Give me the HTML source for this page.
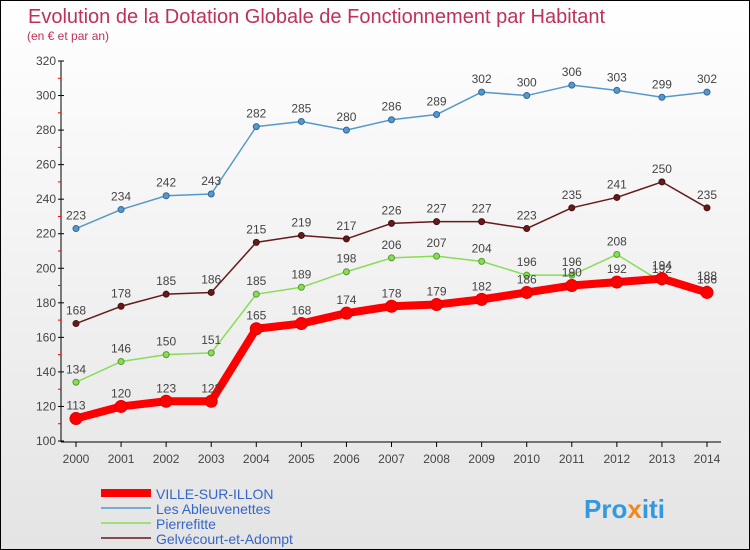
<!DOCTYPE html>
<html><head><meta charset="utf-8"><style>
body{margin:0;}
#w{width:748px;height:548px;border:1px solid #000;background:linear-gradient(#fff,#e4e4e4);position:relative;overflow:hidden;font-family:"Liberation Sans",sans-serif;}
</style></head><body>
<div id="w">
<svg id="s" width="748" height="548" xmlns="http://www.w3.org/2000/svg">
<text x="27" y="22" font-size="20" fill="#c0305a">Evolution de la Dotation Globale de Fonctionnement par Habitant</text>
<text x="26" y="39" font-size="12" fill="#c0305a">(en € et par an)</text>
<g id="axes"></g><g id="series"></g>
<g>
<line x1="100" y1="492" x2="150" y2="492" stroke="#f00" stroke-width="8"/>
<text x="155" y="498" font-size="14" fill="#3366cc">VILLE-SUR-ILLON</text>
<line x1="100" y1="507" x2="150" y2="507" stroke="#5599cc" stroke-width="1.5"/>
<text x="155" y="513" font-size="14" fill="#3366cc">Les Ableuvenettes</text>
<line x1="100" y1="522" x2="150" y2="522" stroke="#88dd55" stroke-width="1.5"/>
<text x="155" y="528" font-size="14" fill="#3366cc">Pierrefitte</text>
<line x1="100" y1="537" x2="150" y2="537" stroke="#661a1a" stroke-width="1.5"/>
<text x="155" y="543" font-size="14" fill="#3366cc">Gelvécourt-et-Adompt</text>
</g>
<text x="583" y="517" font-size="26" font-weight="bold" fill="#3399dd">Pro<tspan fill="#ee8822">x</tspan>iti</text>
</svg></div>
<script>
const years=[2000,2001,2002,2003,2004,2005,2006,2007,2008,2009,2010,2011,2012,2013,2014];
const yTicks=[100,120,140,160,180,200,220,240,260,280,300,320];
const ville=[113,120,123,123,165,168,174,178,179,182,186,190,192,194,186];
const ableuv=[223,234,242,243,282,285,280,286,289,302,300,306,303,299,302];
const pierre=[134,146,150,151,185,189,198,206,207,204,196,196,208,192,188];
const gelv=[168,178,185,186,215,219,217,226,227,227,223,235,241,250,235];
const NS="http://www.w3.org/2000/svg";
const X=i=>75+i*(631/14);
const Y=v=>440-(v-100)*(380/220);
function mk(t,a,p){const e=document.createElementNS(NS,t);for(const k in a)e.setAttribute(k,a[k]);p.appendChild(e);return e;}
const ax=document.getElementById('axes'),sg=document.getElementById('series');
let l=mk('line',{x1:60,y1:60,x2:60,y2:441,stroke:'#000'},ax);


l=mk('line',{x1:60,y1:441,x2:720,y2:441,stroke:'#000'},ax);


yTicks.forEach(v=>{mk('line',{x1:57,y1:Y(v),x2:63,y2:Y(v),stroke:'#000'},ax);
if(v<320)mk('line',{x1:57,y1:Y(v+10),x2:60,y2:Y(v+10),stroke:'#f00'},ax);
const t=mk('text',{x:55,y:Y(v)+4,'font-size':12,fill:'#444','text-anchor':'end'},ax);t.textContent=v;

});
years.forEach((y,i)=>{mk('line',{x1:X(i),y1:441,x2:X(i),y2:446,stroke:'#000'},ax);
const t=mk('text',{x:X(i),y:462,'font-size':12,fill:'#444','text-anchor':'middle'},ax);t.textContent=y;

});
function series(d,col,w,r,name,dark){
const g=mk('g',{},sg);


mk('polyline',{points:d.map((v,i)=>X(i)+','+Y(v)).join(' '),fill:'none',stroke:col,'stroke-width':w,'stroke-linejoin':'round'},g);
d.forEach((v,i)=>{const c=mk('circle',{cx:X(i),cy:Y(v),r:r,fill:col,stroke:dark,'stroke-width':1},g);


const t=mk('text',{x:X(i),y:Y(v)-9,'font-size':12,fill:'#444','text-anchor':'middle'},g);t.textContent=v;});}
series(ableuv,'#5599cc',1.5,3,'ableuvenettes','#336699');
series(gelv,'#661a1a',1.5,3,'gelvecourt','#441010');
series(pierre,'#88dd55',1.5,3,'pierrefitte','#559933');
series(ville,'#f00',8,6,'ville','#d00');
</script>
</body></html>
